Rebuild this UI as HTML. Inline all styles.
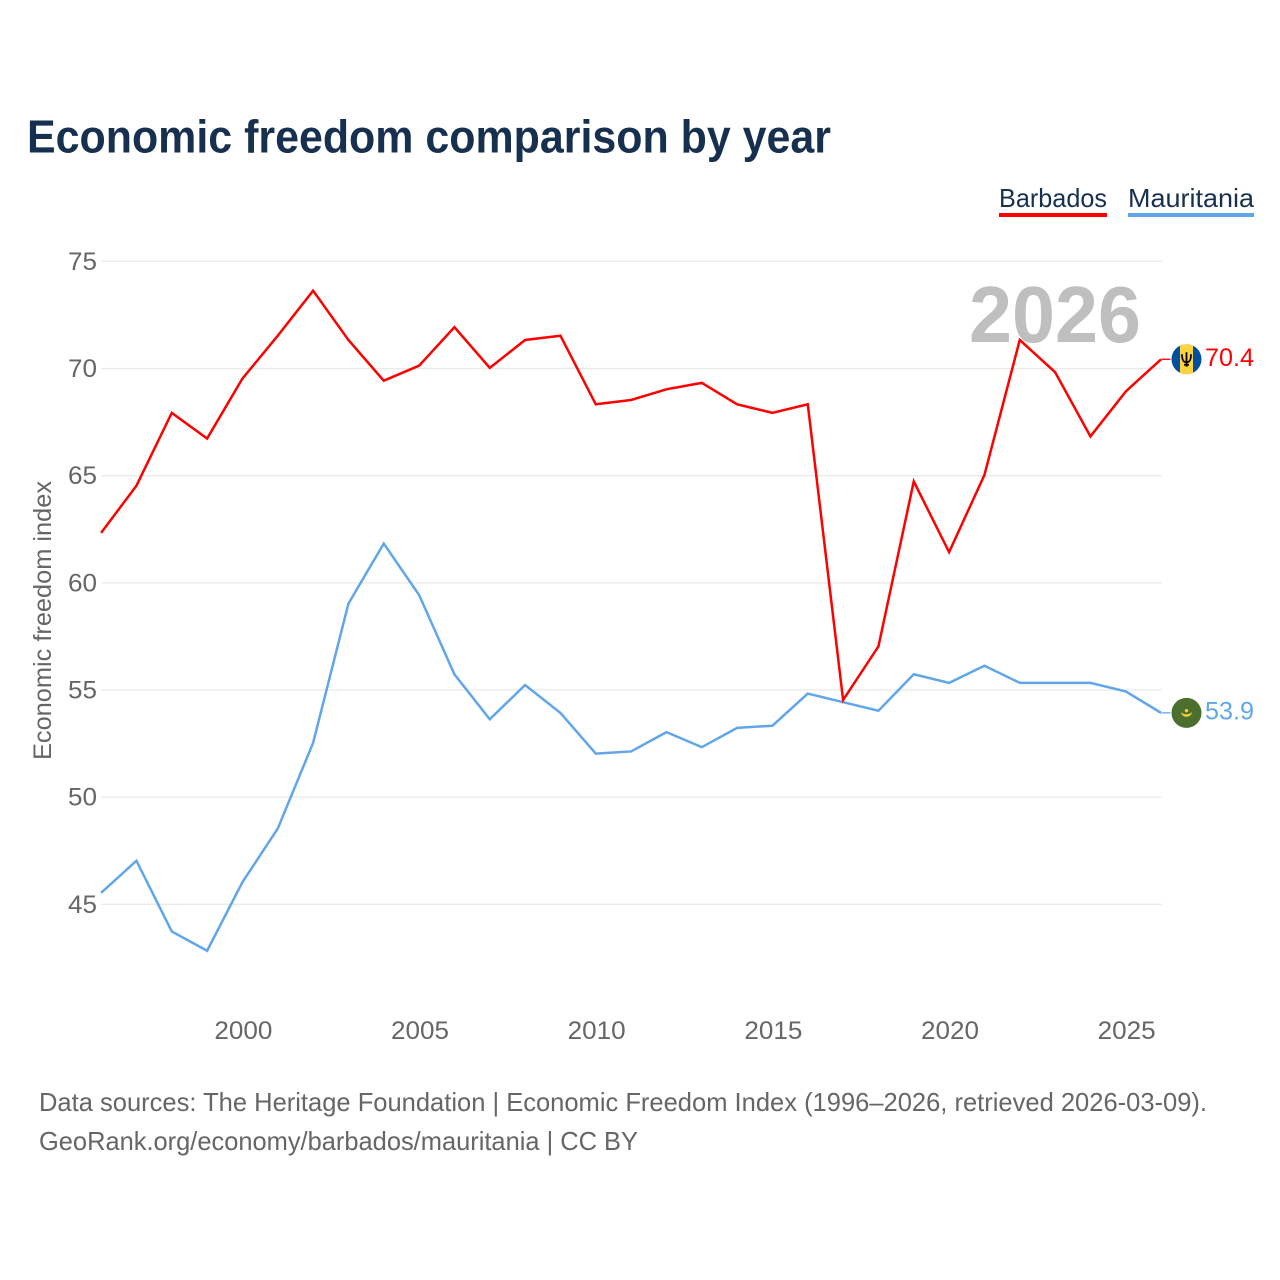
<!DOCTYPE html>
<html lang="en">
<head>
<meta charset="utf-8">
<title>Economic freedom comparison by year</title>
<style>
html,body{margin:0;padding:0;background:#fff;width:1280px;height:1280px;overflow:hidden}
svg{display:block}
text{font-family:"Liberation Sans",sans-serif}
</style>
</head>
<body>
<svg id="chart" width="1280" height="1280" viewBox="0 0 1280 1280" xmlns="http://www.w3.org/2000/svg">
  <rect width="1280" height="1280" fill="#fff"/>
  <text x="27" y="152.5" font-size="46" font-weight="700" fill="#18304f" textLength="804" lengthAdjust="spacingAndGlyphs">Economic freedom comparison by year</text>

  <g>
    <g>
      <text x="999" y="207" font-size="26" fill="#18304f" textLength="108" lengthAdjust="spacingAndGlyphs">Barbados</text>
      <rect x="999" y="213" width="108" height="4" fill="#ff0000"/>
    </g>
    <g>
      <text x="1128" y="207" font-size="26" fill="#18304f" textLength="126" lengthAdjust="spacingAndGlyphs">Mauritania</text>
      <rect x="1128" y="213" width="126" height="4" fill="#62a6ea"/>
    </g>
  </g>

  <g id="grid"></g>
  <g id="yticks"></g>
  <g id="xticks"></g>

  <text transform="translate(51,620.5) rotate(-90)" text-anchor="middle" font-size="25" fill="#666" textLength="279" lengthAdjust="spacingAndGlyphs">Economic freedom index</text>

  <text x="1141" y="342" text-anchor="end" font-size="80" font-weight="700" fill="#bfbfbf" textLength="172" lengthAdjust="spacingAndGlyphs">2026</text>

  <g id="series"></g>

  <g id="flag-barbados">
    <defs>
      <clipPath id="clip-bb"><circle cx="15" cy="15" r="15"/></clipPath>
    </defs>
    <g clip-path="url(#clip-bb)">
      <rect width="30" height="30" fill="#00509f"/>
      <rect x="8.5" width="13" height="30" fill="#ffd23f"/>
    </g>
    <path d="M15 8V22.5M10.5 10c0 6 1.5 8 4.5 8s4.5-2 4.5-8M12.5 20.5h5" fill="none" stroke="#000" stroke-width="1.8"/>
  </g>
  <g id="flag-mauritania">
    <circle cx="15" cy="15" r="15" fill="#4c6f2e"/>
    <path d="M9.5 14c0.6 6.5 10.4 6.5 11 0c-2 3.2-9 3.2-11 0z" fill="#f7cf2f"/>
    <circle cx="15" cy="12.8" r="1.7" fill="#f7cf2f"/>
  </g>

  <text x="39" y="1111" font-size="26" fill="#666" textLength="1168" lengthAdjust="spacingAndGlyphs">Data sources: The Heritage Foundation | Economic Freedom Index (1996–2026, retrieved 2026-03-09).</text>
  <text x="39" y="1150" font-size="26" fill="#666" textLength="599" lengthAdjust="spacingAndGlyphs">GeoRank.org/economy/barbados/mauritania | CC BY</text>
</svg>
<script>
const years = [1996,1997,1998,1999,2000,2001,2002,2003,2004,2005,2006,2007,2008,2009,2010,2011,2012,2013,2014,2015,2016,2017,2018,2019,2020,2021,2022,2023,2024,2025,2026];
const barbadosValues = [62.3,64.5,67.9,66.7,69.5,71.5,73.6,71.3,69.4,70.1,71.9,70.0,71.3,71.5,68.3,68.5,69.0,69.3,68.3,67.9,68.3,54.5,57.0,64.7,61.4,65.0,71.3,69.8,66.8,68.9,70.4];
const mauritaniaValues = [45.5,47.0,43.7,42.8,46.0,48.5,52.5,59.0,61.8,59.4,55.7,53.6,55.2,53.9,52.0,52.1,53.0,52.3,53.2,53.3,54.8,54.4,54.0,55.7,55.3,56.1,55.3,55.3,55.3,54.9,53.9];
const yTickValues = [45,50,55,60,65,70,75];
const xTickValues = [2000,2005,2010,2015,2020,2025];

const NS = 'http://www.w3.org/2000/svg';
const plotLeft = 101.5, plotRight = 1161.5, y75 = 261.4, pxPerUnit = 21.43;
const seriesShiftX = -0.4, seriesShiftY = -0.7;
const xScale = function (year) { return plotLeft + (year - 1996) * (plotRight - plotLeft) / 30; };
const yScale = function (value) { return y75 + (75 - value) * pxPerUnit; };

function make(tag, attrs, text) {
  const el = document.createElementNS(NS, tag);
  for (const key in attrs) el.setAttribute(key, attrs[key]);
  if (text !== undefined) el.textContent = text;
  return el;
}

const grid = document.getElementById('grid');
const yticks = document.getElementById('yticks');
const xticks = document.getElementById('xticks');
const seriesGroup = document.getElementById('series');

yTickValues.forEach(function (v) {
  const line = make('line', { x1: plotLeft, x2: plotRight, y1: yScale(v), y2: yScale(v), stroke: '#e9e9e9', 'stroke-width': 1.3 });
  
  
  grid.appendChild(line);
  const label = make('text', { x: 97, y: yScale(v) + 8.5, 'text-anchor': 'end', 'font-size': 25, fill: '#666', textLength: String(v).length * 14.5, lengthAdjust: 'spacingAndGlyphs' }, String(v));
  
  
  yticks.appendChild(label);
});

xTickValues.forEach(function (v) {
  const label = make('text', { x: xScale(v) + 0.5, y: 1039, 'text-anchor': 'middle', 'font-size': 25, fill: '#666', textLength: String(v).length * 14.5, lengthAdjust: 'spacingAndGlyphs' }, String(v));
  
  
  xticks.appendChild(label);
});

function drawSeries(name, values, color, flagId) {
  const points = values.map(function (v, i) { return (xScale(years[i]) + seriesShiftX).toFixed(2) + ',' + (yScale(v) + seriesShiftY).toFixed(2); }).join(' ');
  const line = make('polyline', { points: points, fill: 'none', stroke: color, 'stroke-width': 2.5, 'stroke-linejoin': 'miter' });
  
  
  seriesGroup.appendChild(line);

  const last = values[values.length - 1];
  const endX = xScale(years[years.length - 1]);
  const endY = yScale(last) + seriesShiftY;
  const connector = make('line', { x1: endX, x2: endX + 9, y1: endY, y2: endY, stroke: color, 'stroke-width': 1.3 });
  
  
  seriesGroup.appendChild(connector);

  document.getElementById(flagId).setAttribute('transform', 'translate(' + (endX + 10) + ',' + (endY - 15) + ')');

  const label = make('text', { x: 1254, y: endY + 6.5, 'text-anchor': 'end', 'font-size': 25, fill: color, textLength: 49, lengthAdjust: 'spacingAndGlyphs' }, last.toFixed(1));
  
  
  seriesGroup.appendChild(label);
}

drawSeries('mauritania', mauritaniaValues, '#62a6ea', 'flag-mauritania');
drawSeries('barbados', barbadosValues, '#ff0000', 'flag-barbados');
</script>
</body>
</html>
